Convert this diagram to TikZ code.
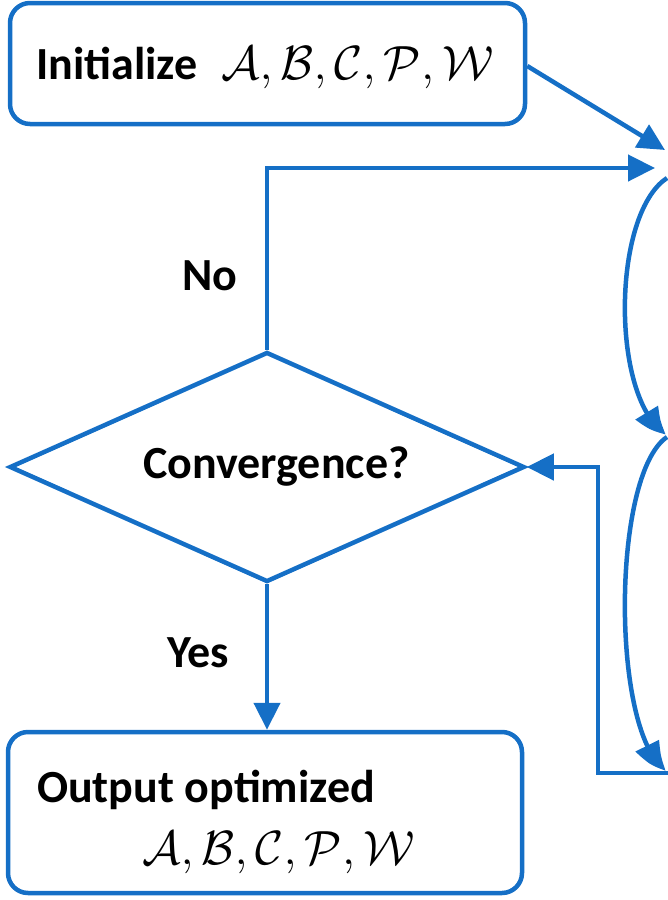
\RequirePackage{fix-cm}
\documentclass[tikz,border=0pt]{standalone}
\usepackage[no-math]{fontspec}
\setmainfont{Carlito}
\usetikzlibrary{arrows.meta,shapes.geometric,bending}
\definecolor{fcblue}{RGB}{21,111,198}
\begin{document}
\begin{tikzpicture}[x=1pt,y=-1pt,
  conn/.style={draw=fcblue,line width=4.5pt,-{Triangle[length=27pt,width=26pt,bend]}},
  box/.style={draw=fcblue,line width=4.5pt,rounded corners=20pt,inner sep=0pt},
  lbl/.style={font=\fontsize{46}{55}\selectfont\bfseries,inner sep=0pt},
  mth/.style={font=\fontsize{48}{58}\selectfont,inner sep=0pt}]
\useasboundingbox (0,0) rectangle (667,900);
% boxes
\node[box,minimum width=515pt,minimum height=121pt] (init) at (267.5,63.5) {};
\node[box,minimum width=514pt,minimum height=161pt] (out) at (265,812.5) {};
\node[draw=fcblue,line width=4.5pt,diamond,inner sep=0pt,minimum width=515pt,minimum height=230pt,aspect=2.24] (conv) at (267,467) {};
% texts
\node[lbl,anchor=base west] (inittxt) at (36,79) {Initialize};
\node[mth,anchor=base west] (initmath) at (221,79) {$\mathcal{A},\mathcal{B},\mathcal{C},\mathcal{P},\mathcal{W}$};
\node[lbl,anchor=base west] (convtxt) at (143,478) {Convergence?};
\node[lbl,anchor=base west] (notxt) at (182,290) {No};
\node[lbl,anchor=base west] (yestxt) at (167,667) {Yes};
\node[lbl,anchor=base west] (outtxt) at (37,802) {Output optimized};
\node[mth,anchor=base west] (outmath) at (142,864) {$\mathcal{A},\mathcal{B},\mathcal{C},\mathcal{P},\mathcal{W}$};
% off-page step coordinates
\coordinate (s1in) at (665,150);
\coordinate (s1a) at (667,178);
\coordinate (s1b) at (666,434);
\coordinate (s2a) at (667,437);
\coordinate (s2b) at (666,770);
\coordinate (s2out) at (669,773);
\coordinate (loopin) at (655,168);
% connectors
\draw[conn] (init.east |- 0,66) -- (s1in);
\draw[conn] (conv.north) -- (267,168) -- (loopin);
\draw[conn] (s1a) .. controls (611,215) and (611,400) .. (s1b);
\draw[conn] (s2a) .. controls (611,475) and (611,735) .. (s2b);
\draw[conn] (s2out) -- (598,773) -- (598,467) -- (conv.east);
\draw[conn] (conv.south) -- (out.north -| conv.south);
\end{tikzpicture}
\end{document}
